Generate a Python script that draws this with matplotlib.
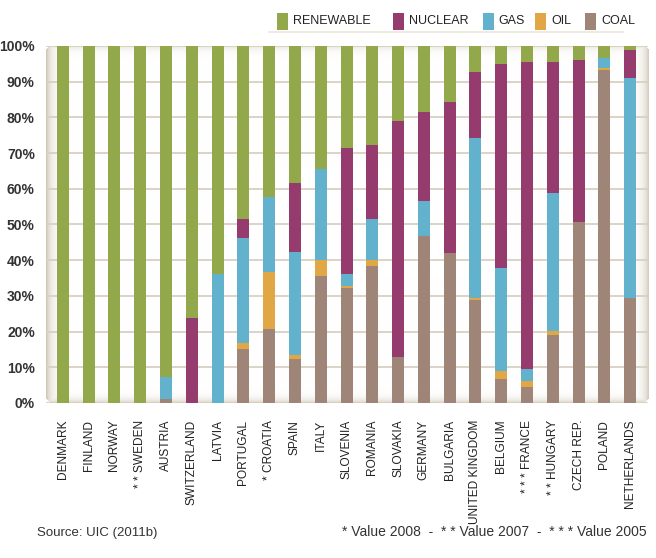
import matplotlib
matplotlib.use('Agg')
import matplotlib.pyplot as plt
import numpy as np
from matplotlib.patches import Rectangle

plt.rcParams.update({'font.family': ['Liberation Sans', 'DejaVu Sans']})

countries = ['DENMARK', 'FINLAND', 'NORWAY', '* * SWEDEN', 'AUSTRIA', 'SWITZERLAND',
             'LATVIA', 'PORTUGAL', '* CROATIA', 'SPAIN', 'ITALY', 'SLOVENIA',
             'ROMANIA', 'SLOVAKIA', 'GERMANY', 'BULGARIA', 'UNITED KINGDOM',
             'BELGIUM', '* * * FRANCE', '* * HUNGARY', 'CZECH REP.', 'POLAND',
             'NETHERLANDS']
# shares in % (stacked from bottom: coal, oil, gas, nuclear, renewable)
coal = [0, 0, 0, 0, 1.0, 0, 0, 15.0, 20.8, 12.3, 35.6, 32.1,
        38.4, 12.8, 46.8, 41.9, 28.8, 6.6, 4.4, 19.1, 50.7, 93.4, 29.3]
oil = [0, 0, 0, 0, 0, 0, 0, 1.8, 15.8, 1.2, 4.4, 0.7,
       1.6, 0, 0, 0, 0.6, 2.3, 1.7, 1.0, 0, 0.5, 0]
gas = [0, 0, 0, 0, 6.2, 0, 36.0, 29.5, 21.1, 28.8, 25.5, 3.2,
       11.4, 0, 9.7, 0, 44.7, 28.8, 3.3, 38.7, 0, 2.8, 61.8]
nuclear = [0, 0, 0, 0, 0, 23.7, 0, 5.1, 0, 19.3, 0, 35.3,
           21.0, 66.3, 25.0, 42.5, 18.7, 57.3, 86.2, 36.8, 45.5, 0, 7.9]
renewable = [100 - c - o - g - n for c, o, g, n in zip(coal, oil, gas, nuclear)]

series = [('COAL', coal, '#9e8577'), ('OIL', oil, '#e0a744'),
          ('GAS', gas, '#62b1cd'), ('NUCLEAR', nuclear, '#963b6e'),
          ('RENEWABLE', renewable, '#92a84a')]

fig = plt.figure(figsize=(6.56, 5.58), dpi=100)
ax = fig.add_axes([0.070, 0.2778, 0.918, 0.6398])
ax.patch.set_alpha(0)

x = np.arange(len(countries))
bottom = np.zeros(len(countries))
for name, vals, col in series:
    ax.bar(x, vals, 0.466, bottom=bottom, color=col, edgecolor='none', zorder=3)
    bottom += np.array(vals)

for s in ax.spines.values():
    s.set_visible(False)
ax.set_yticks(np.arange(0, 101, 10))
ax.set_yticklabels([f'{v}%' for v in range(0, 101, 10)], fontsize=10,
                   fontweight='bold', color='#333333')
ax.tick_params(length=0, pad=8)
ax.yaxis.grid(True, color='#d9d0c0', linewidth=1.3, zorder=1)
ax.set_axisbelow(True)
ax.set_xticks(x)
ax.set_xticklabels(countries, rotation=90, fontsize=8.6, color='#222222')
ax.tick_params(axis='x', pad=12)

# inner shadow frame of the plot area
W, H, r = 602, 357, 7
px, py = np.meshgrid(np.arange(W) + 0.5, np.arange(H) + 0.5)
dl, dr, db, dt = px, W - px, H - py, py
shade = np.maximum.reduce([np.exp(-dl / 5.0), np.exp(-dr / 5.0) * 0.9,
                           np.exp(-db / 3.5) * 0.8, np.exp(-dt / 3.5) * 0.6])
cx = np.clip(px, r, W - r)
cy = np.clip(py, r, H - r)
outside = np.hypot(px - cx, py - cy) > r
img = np.ones((H, W, 4))
base = np.array([0.80, 0.76, 0.69])
for k in range(3):
    img[..., k] = 1 - shade * (1 - base[k])
img[outside, 3] = 0
ax.imshow(img, extent=[0, 1, 0, 1], transform=ax.transAxes, aspect='auto',
          zorder=0.5, interpolation='bilinear')
ax.set_xlim(-0.66, len(countries) - 1 + 0.70)
ax.set_ylim(0, 100)

# legend at top right
leg_items = [('RENEWABLE', '#92a84a', 0.422), ('NUCLEAR', '#963b6e', 0.599),
             ('GAS', '#62b1cd', 0.736), ('OIL', '#e0a744', 0.816),
             ('COAL', '#9e8577', 0.892)]
for name, col, lx in leg_items:
    fig.patches.append(Rectangle((lx, 0.946), 0.0168, 0.0305, transform=fig.transFigure,
                                 facecolor=col, edgecolor='none'))
    fig.text(lx + 0.0244, 0.962, name, fontsize=9, va='center', color='#222222')
fig.add_artist(plt.Line2D([0.41, 0.95], [0.942, 0.942], color='#efeae2', lw=1.5))

fig.text(0.056, 0.04, 'Source: UIC (2011b)', fontsize=9.5, color='#333333')
fig.text(0.985, 0.04, '* Value 2008  -  * * Value 2007  -  * * * Value 2005', fontsize=10,
         color='#333333', ha='right')

fig.savefig('out.png', dpi=100)
